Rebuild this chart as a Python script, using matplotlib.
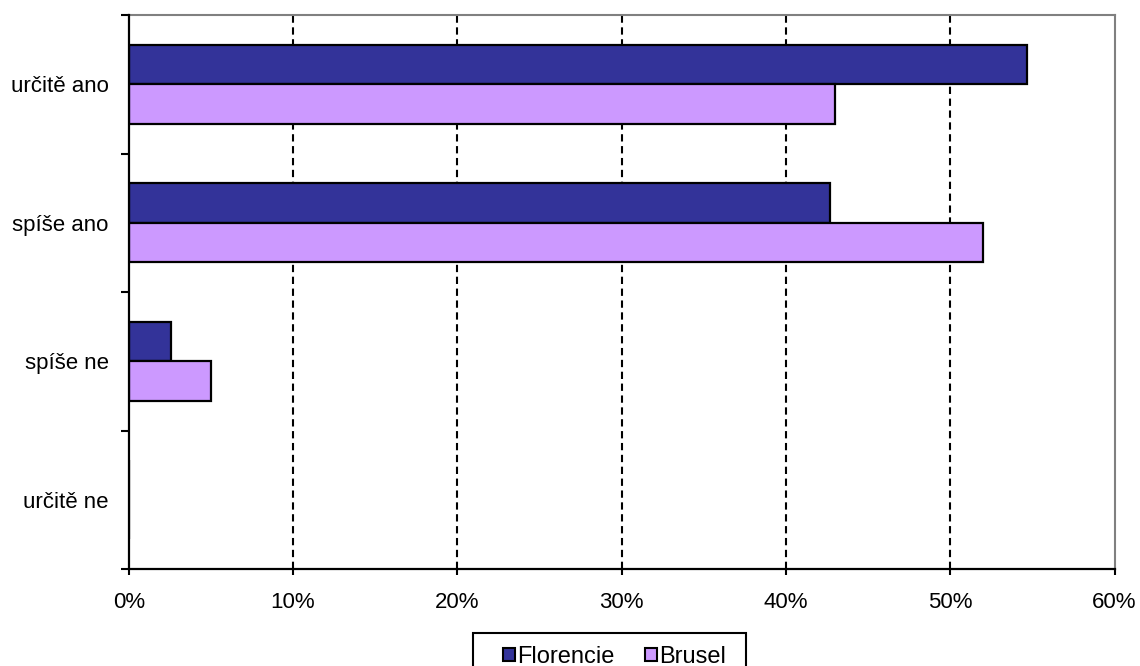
import matplotlib
matplotlib.use("Agg")
import matplotlib.pyplot as plt
from matplotlib.ticker import FixedLocator, PercentFormatter
from matplotlib.patches import Rectangle
import numpy as np

plt.rcParams['font.family'] = ['Liberation Sans', 'DejaVu Sans']

categories = ["určitě ano", "spíše ano", "spíše ne", "určitě ne"]
series_names = ["Florencie", "Brusel"]
florencie = [54.7, 42.7, 2.6, 0.0]
brusel = [43.0, 52.0, 5.0, 0.0]
x_ticks = [0, 10, 20, 30, 40, 50, 60]

colors = ["#333399", "#CC99FF"]
fs = 16
leg_fs = 17

W, H = 1140, 666
fig = plt.figure(figsize=(W / 100, H / 100), dpi=100)
ax = fig.add_axes([128.7 / W, 1 - 569 / H, (1114.5 - 128.7) / W, (569 - 15) / H])

y = np.arange(len(categories))
h = 0.285
for k, (vals, name) in enumerate(zip([florencie, brusel], series_names)):
    offs = (k - 0.5) * h
    ax.barh(y + offs, vals, height=h, color=colors[k], edgecolor="black",
            linewidth=1.6, label=name, zorder=3)

ax.set_xlim(0, 60)
ax.set_ylim(len(categories) - 0.5, -0.5)

ax.xaxis.set_major_locator(FixedLocator(x_ticks))
ax.xaxis.set_major_formatter(PercentFormatter(decimals=0))
ax.tick_params(axis="x", direction="out", length=4.5, width=1.5, pad=12,
               labelsize=fs, color="black")

ax.set_yticks(y)
ax.set_yticklabels(categories)
ax.set_yticks(np.arange(len(categories) + 1) - 0.5, minor=True)
ax.tick_params(axis="y", which="major", length=0, pad=14.5, labelsize=fs)
ax.tick_params(axis="y", which="minor", direction="out", length=5.8, width=1.5)

for xv in x_ticks[1:-1]:
    ax.axvline(xv, color="black", linewidth=1.5, linestyle=(0, (3.5, 2.2)), zorder=1)

ax.spines["left"].set_linewidth(1.6)
ax.spines["bottom"].set_linewidth(1.6)
ax.spines["top"].set_color("#808080")
ax.spines["right"].set_color("#808080")
ax.spines["top"].set_linewidth(1.5)
ax.spines["right"].set_linewidth(1.5)
ax.spines["left"].set_zorder(4)
ax.spines["bottom"].set_zorder(4)

# legend frame drawn separately so the padding can be set freely
fig.patches.append(Rectangle((473 / W, 1 - 680 / H), (746 - 473) / W, (680 - 633) / H,
                             transform=fig.transFigure, facecolor="white",
                             edgecolor="black", linewidth=1.5, zorder=5))

leg = fig.legend(loc="upper left", bbox_to_anchor=(503 / W, 1 - 646 / H),
                 ncol=2, fontsize=leg_fs, frameon=False,
                 handlelength=0.5, handleheight=0.5, handletextpad=0.1,
                 columnspacing=1.3, borderpad=0, borderaxespad=0)
leg.set_zorder(6)
for hnd in leg.legend_handles:
    hnd.set_linewidth(1.5)

fig.savefig("out.png", dpi=100)
